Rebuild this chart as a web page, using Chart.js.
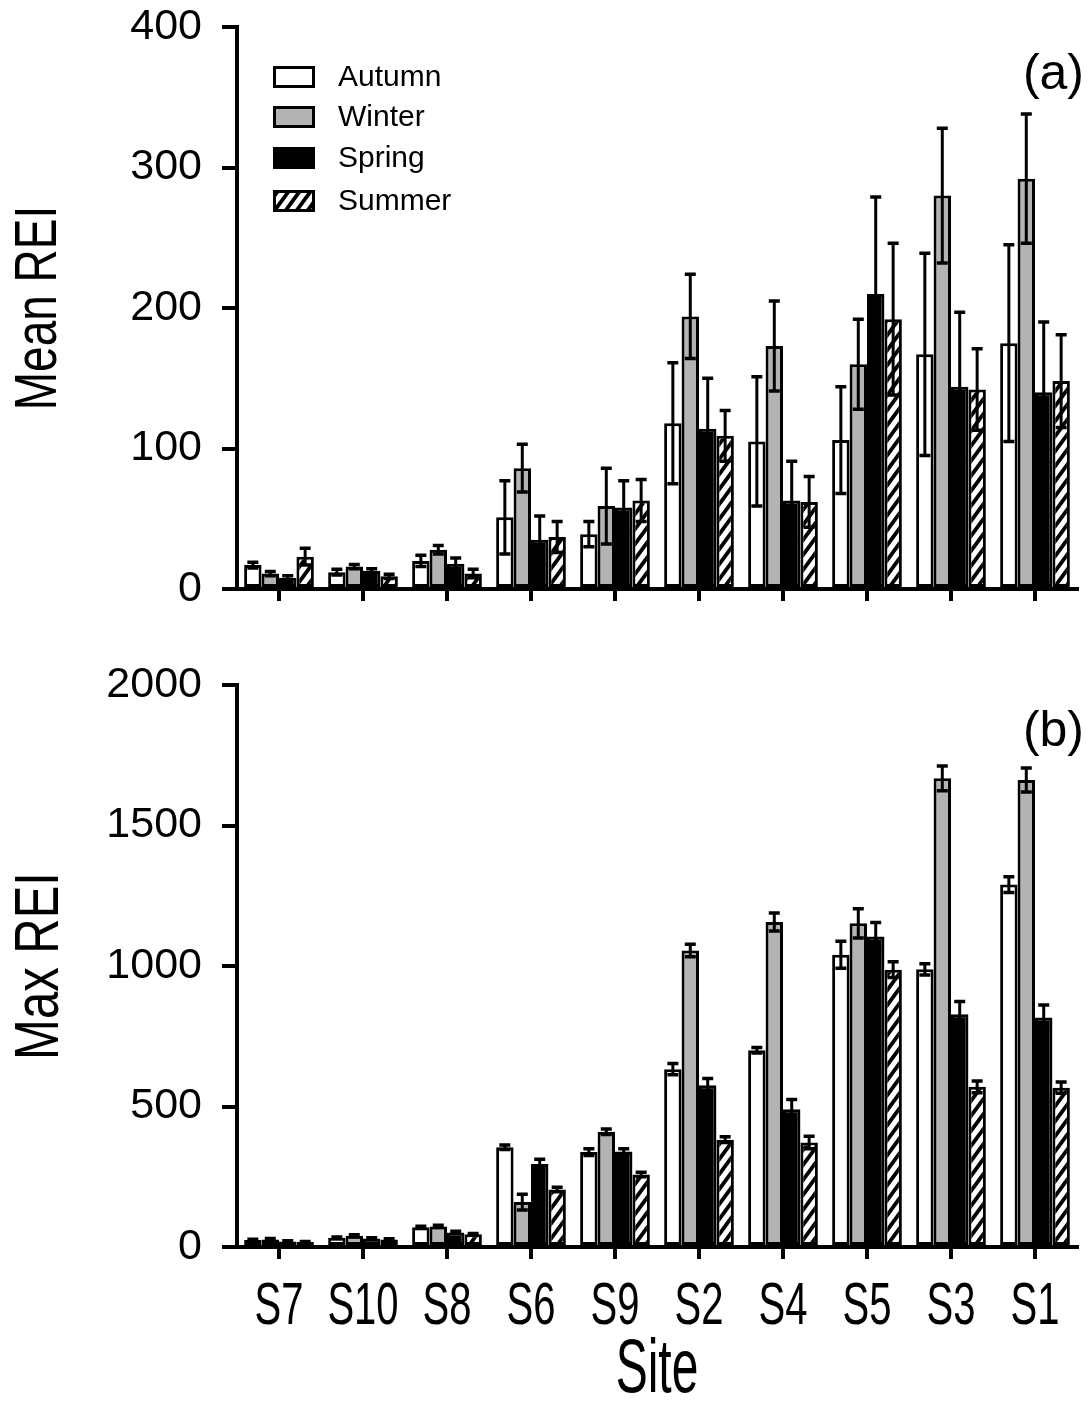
<!DOCTYPE html>
<html><head><meta charset="utf-8">
<script src="https://cdn.jsdelivr.net/npm/chart.js@4.4.1/dist/chart.umd.min.js"></script>
<style>
html,body{margin:0;padding:0;background:#fff;width:1087px;height:1410px;overflow:hidden}
canvas{position:absolute;left:0}
#c1{top:0}
#c2{top:640px}
</style></head><body>
<canvas id="c1" width="1087" height="640"></canvas>
<canvas id="c2" width="1087" height="770"></canvas>
<script>
// ---------- data ----------
const sites = ['S7','S10','S8','S6','S9','S2','S4','S5','S3','S1'];
const seasons = ['Autumn','Winter','Spring','Summer'];

const meanAutumn    = [17, 12, 20, 51, 39, 118, 105, 106, 167, 175];
const meanAutumnErr = [2, 2, 4, 26, 9, 43, 46, 38, 72, 70];
const meanWinter    = [11, 16, 28, 86, 59, 194, 173, 160, 280, 292];
const meanWinterErr = [1.5, 1.5, 3, 17, 27, 30, 32, 32, 48, 46];
const meanSpring    = [8, 13, 18, 35, 58, 114, 63, 210, 144, 140];
const meanSpringErr = [1.5, 1.5, 4, 17, 19, 36, 28, 69, 53, 50];
const meanSummer    = [23, 9, 11, 37, 63, 109, 62, 192, 142, 148];
const meanSummerErr = [6, 1.5, 3, 11, 15, 18, 18, 54, 29, 33];

const maxAutumn    = [25, 33, 70, 355, 338, 633, 700, 1040, 988, 1290];
const maxAutumnErr = [3, 3, 4, 8, 12, 20, 10, 48, 20, 28];
const maxWinter    = [27, 40, 73, 160, 410, 1055, 1157, 1152, 1668, 1662];
const maxWinterErr = [3, 4, 4, 28, 10, 22, 32, 52, 44, 43];
const maxSpring    = [20, 30, 52, 295, 340, 576, 490, 1105, 828, 817];
const maxSpringErr = [2, 3, 4, 17, 10, 24, 35, 50, 46, 44];
const maxSummer    = [18, 27, 45, 205, 258, 382, 372, 987, 570, 567];
const maxSummerErr = [2, 2, 3, 8, 8, 10, 22, 28, 21, 20];

const meanTickLabels = ['0', '100', '200', '300', '400'];
const maxTickLabels  = ['0', '500', '1000', '1500', '2000'];
const meanTicks = {min: 0, max: 400, step: 100};
const maxTicks  = {min: 0, max: 2000, step: 500};

// ---------- styles ----------
const FONT = "'Liberation Sans', Arial, Helvetica, sans-serif";
function makeHatch(){
  const w = 11, h = 15;
  const c = document.createElement('canvas'); c.width = w; c.height = h;
  const g = c.getContext('2d');
  g.fillStyle = '#fff'; g.fillRect(0,0,w,h);
  g.strokeStyle = '#000'; g.lineWidth = 3.8;
  g.beginPath();
  for (let k = -1; k <= 3; k++) {
    g.moveTo(-w, k*h + h); g.lineTo(2*w, k*h - 2*h);
  }
  g.stroke();
  return g.createPattern(c, 'repeat');
}
const hatch = makeHatch();
const fills = ['#ffffff', '#b3b3b3', '#000000', hatch];

function buildDatasets(vals, errs){
  return seasons.map((s,i)=>({
    label: s,
    data: vals[i],
    errors: errs[i],
    backgroundColor: fills[i],
    borderColor: '#000',
    borderWidth: 3,
    borderSkipped: false,
    categoryPercentage: 0.83,
    barPercentage: 1.0
  }));
}

// ---------- plugins ----------
const errorBars = {
  id: 'errorBars',
  afterDatasetsDraw(chart){
    const ctx = chart.ctx, y = chart.scales.y;
    chart.data.datasets.forEach((ds,i)=>{
      const meta = chart.getDatasetMeta(i);
      meta.data.forEach((bar,j)=>{
        const v = ds.data[j], e = ds.errors[j];
        const top = y.getPixelForValue(v+e), bot = y.getPixelForValue(Math.max(0, v-e));
        ctx.save();
        ctx.strokeStyle = '#000';
        ctx.lineWidth = 3;
        ctx.beginPath(); ctx.moveTo(bar.x, top); ctx.lineTo(bar.x, bot); ctx.stroke();
        ctx.lineWidth = 3.5;
        ctx.beginPath();
        ctx.moveTo(bar.x-5.5, top); ctx.lineTo(bar.x+5.5, top);
        ctx.moveTo(bar.x-5.5, bot); ctx.lineTo(bar.x+5.5, bot);
        ctx.stroke();
        ctx.restore();
      });
    });
  }
};

function stretchedText(ctx, text, x, y, size, sy, rot){
  ctx.save();
  ctx.translate(x, y);
  if (rot) ctx.rotate(rot);
  ctx.scale(1, sy);
  ctx.font = size + 'px ' + FONT;
  ctx.fillStyle = '#000';
  ctx.textAlign = 'center';
  ctx.textBaseline = 'middle';
  ctx.fillText(text, 0, 0);
  ctx.restore();
}

const decorations = {
  id: 'decorations',
  afterDraw(chart, args, opts){
    const ctx = chart.ctx;
    const ca = chart.chartArea;
    stretchedText(ctx, opts.yTitle, 40, (ca.top+ca.bottom)/2, opts.yTitleSize, 1.3, -Math.PI/2);
    ctx.save();
    ctx.font = '50px ' + FONT; ctx.fillStyle = '#000';
    ctx.textAlign = 'right'; ctx.textBaseline = 'middle';
    ctx.fillText(opts.panel, 1084, opts.panelY);
    ctx.restore();
    if (opts.xLabels) {
      const xs = chart.scales.x;
      chart.data.labels.forEach((lab,i)=>{
        stretchedText(ctx, lab, xs.getPixelForTick(i), opts.xLabelY, 40, 1.5, 0);
      });
      stretchedText(ctx, opts.xTitle, (ca.left+ca.right)/2, opts.xTitleY, 48, 1.6, 0);
    }
    if (opts.legend) {
      const rows = [77, 117, 158, 201];
      chart.data.datasets.forEach((ds,i)=>{
        const cy = rows[i];
        ctx.save();
        ctx.fillStyle = ds.backgroundColor;
        ctx.fillRect(273, cy-11, 42, 22);
        ctx.strokeStyle = '#000'; ctx.lineWidth = 3;
        ctx.strokeRect(274.5, cy-9.5, 39, 19);
        ctx.font = '30px ' + FONT; ctx.fillStyle = '#000';
        ctx.textAlign = 'left'; ctx.textBaseline = 'middle';
        ctx.fillText(ds.label, 338, cy+1);
        ctx.restore();
      });
    }
  }
};

function makeChart(id, vals, errs, tk, tickLabels, cfg){
  return new Chart(document.getElementById(id), {
    type: 'bar',
    data: { labels: sites, datasets: buildDatasets(vals, errs) },
    plugins: [errorBars, decorations],
    options: {
      responsive: false,
      animation: false,
      layout: { padding: { top: cfg.padTop, right: 10, left: 0, bottom: 0 } },
      plugins: {
        legend: { display: false },
        tooltip: { enabled: false },
        decorations: cfg.deco
      },
      scales: {
        x: {
          offset: true,
          grid: { offset: false, drawOnChartArea: false, drawTicks: true, tickLength: 12, lineWidth: 4, tickColor: '#000', color: '#000' },
          border: { display: true, color: '#000', width: 4 },
          ticks: { display: false },
          afterFit(s){ s.height = cfg.xHeight; s.paddingLeft = 0; s.paddingRight = 0; }
        },
        y: {
          min: tk.min, max: tk.max,
          grid: { drawOnChartArea: false, drawTicks: true, tickLength: 15, lineWidth: 4, tickColor: '#000', color: '#000' },
          border: { display: true, color: '#000', width: 4 },
          ticks: { stepSize: tk.step, color: '#000', padding: 20, font: { family: FONT, size: 43 },
                   callback: (v, i) => tickLabels[i] },
          afterFit(s){ s.width = 237; s.paddingTop = 0; s.paddingBottom = 0; }
        }
      }
    }
  });
}

makeChart('c1',
  [meanAutumn, meanWinter, meanSpring, meanSummer],
  [meanAutumnErr, meanWinterErr, meanSpringErr, meanSummerErr],
  meanTicks, meanTickLabels,
  { padTop: 27, xHeight: 51,
    deco: { yTitle: 'Mean REI', yTitleSize: 46, panel: '(a)', panelY: 75, legend: true, xLabels: false } });

makeChart('c2',
  [maxAutumn, maxWinter, maxSpring, maxSummer],
  [maxAutumnErr, maxWinterErr, maxSpringErr, maxSummerErr],
  maxTicks, maxTickLabels,
  { padTop: 45, xHeight: 163,
    deco: { yTitle: 'Max REI', yTitleSize: 49, panel: '(b)', panelY: 92, legend: false, xLabels: true,
            xLabelY: 667, xTitle: 'Site', xTitleY: 731 } });
</script>
</body></html>
